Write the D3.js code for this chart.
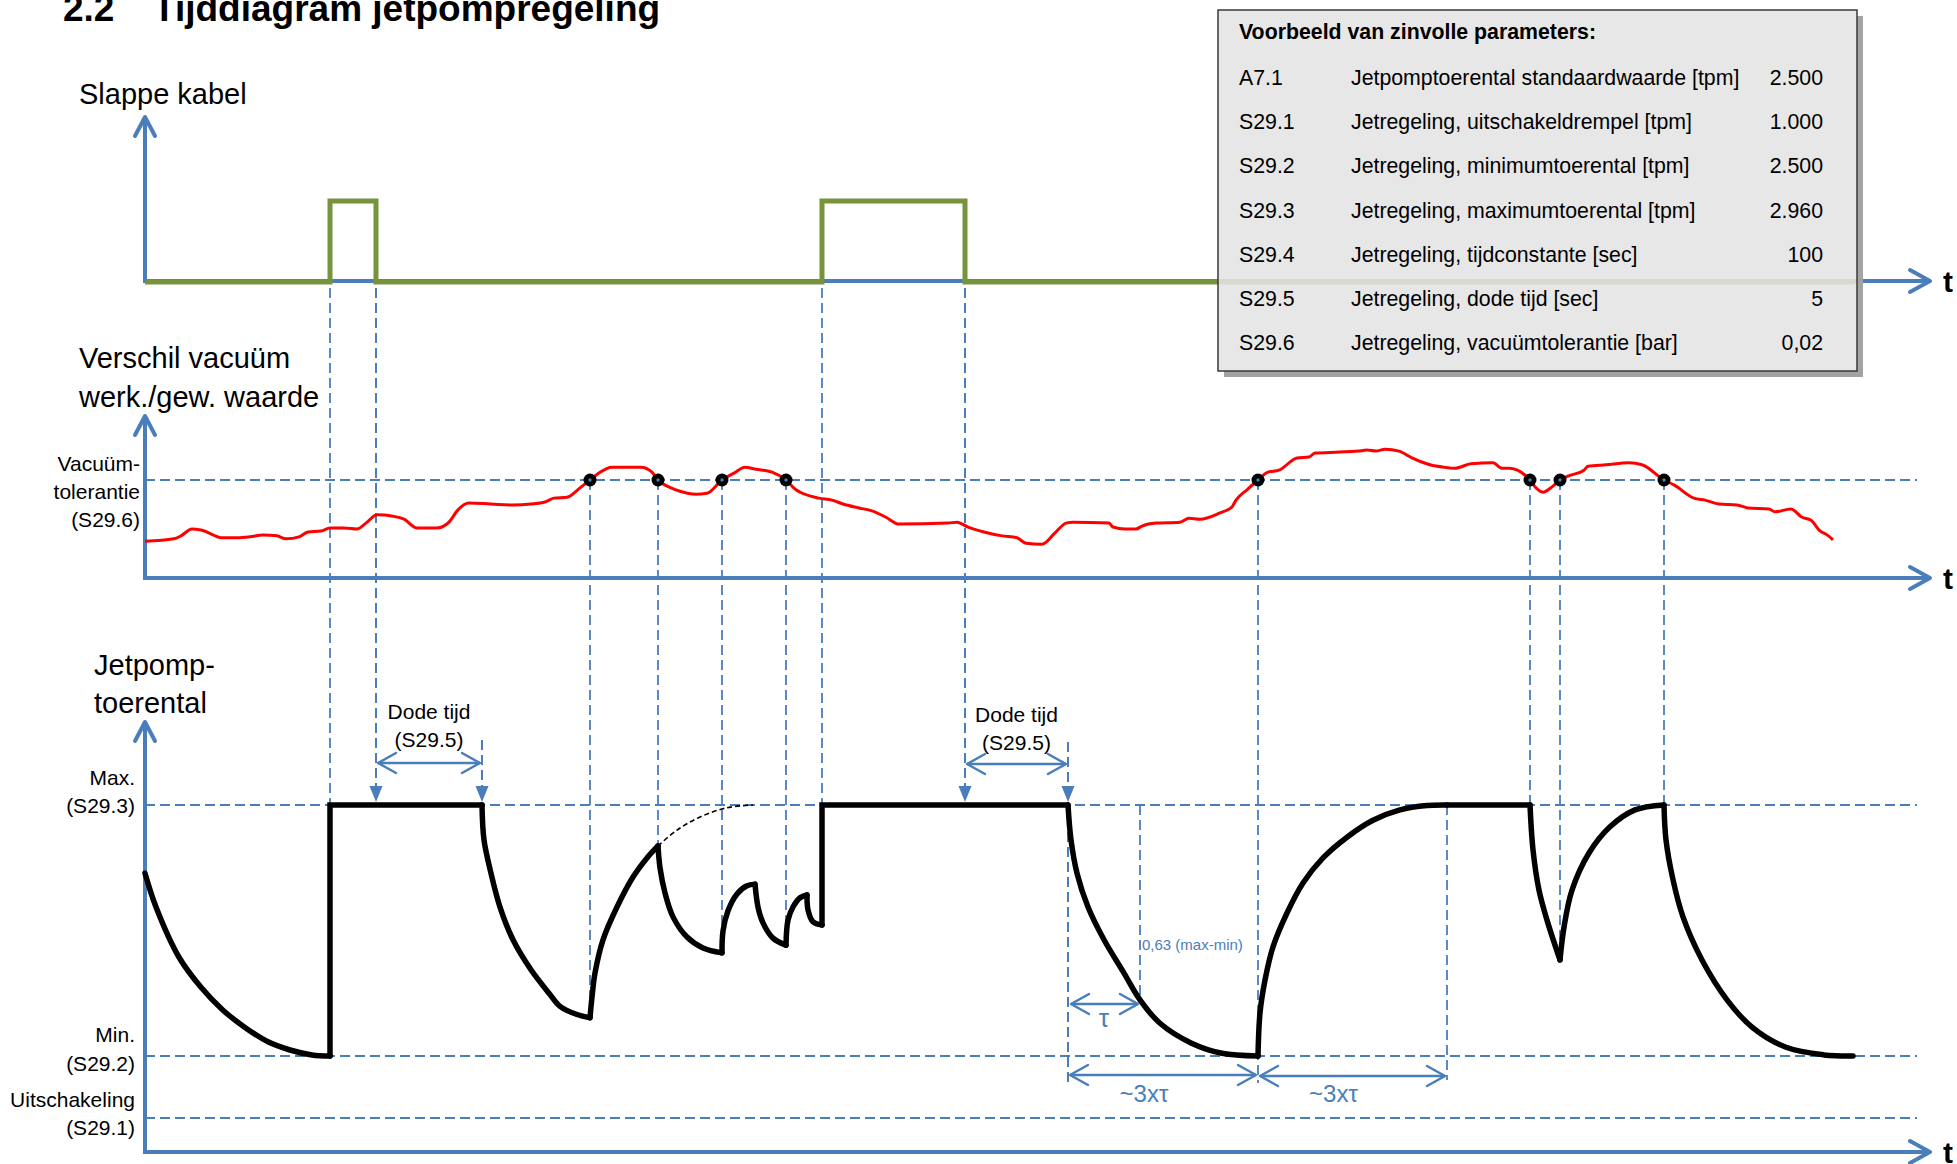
<!DOCTYPE html>
<html><head><meta charset="utf-8">
<script src="https://cdn.jsdelivr.net/npm/d3@7"></script>
<style>html,body{margin:0;padding:0;background:#fff;overflow:hidden}</style>
</head><body>
<svg id="c" width="1957" height="1164"></svg>
<script>
// ---------------- DATA ----------------
// time in arbitrary schematic units
const slackCableSteps = [[0,0],[18.5,1],[23.1,0],[67.7,1],[82.0,0],[171.0,0]];

// vacuum difference (working vs. desired), mbar; tolerance = 20 mbar (0,02 bar)
const vacuumDiff = [[0.0,7.5],[2.9,8.0],[3.6,8.6],[4.7,10.0],[5.6,9.8],[7.8,8.2],[9.2,8.2],[10.5,8.4],[11.8,8.8],[13.2,8.6],[14.1,8.0],[15.4,8.4],[16.3,9.4],[17.6,9.6],[18.5,10.2],[19.9,10.2],[21.2,10.0],[22.1,11.2],[23.2,12.9],[24.8,12.6],[25.9,12.0],[27.2,10.2],[29.2,10.2],[30.4,11.4],[31.3,13.9],[32.4,15.3],[34.6,15.1],[36.8,14.9],[38.6,15.1],[40.0,15.5],[40.9,16.3],[42.2,16.5],[43.5,18.4],[44.5,20.0],[45.5,21.6],[46.7,22.6],[49.6,22.6],[50.7,21.6],[51.3,20.0],[52.6,18.4],[53.5,17.7],[55.1,17.1],[56.2,17.3],[57.7,20.0],[58.9,21.4],[60.0,22.6],[61.1,22.2],[62.7,21.6],[64.1,20.0],[65.1,18.0],[67.4,16.3],[68.7,15.9],[69.8,15.1],[71.4,14.3],[72.7,13.7],[74.1,12.4],[75.4,11.0],[80.3,11.2],[81.2,11.4],[82.3,10.4],[83.9,9.4],[85.7,8.6],[87.2,8.2],[88.1,7.1],[89.7,6.9],[91.0,9.2],[92.1,11.2],[92.8,11.4],[96.4,11.2],[96.8,10.4],[98.0,10.0],[99.1,10.0],[99.7,10.6],[101.1,11.2],[103.5,11.4],[104.4,12.2],[105.5,12.0],[107.5,13.3],[108.7,14.5],[109.1,15.9],[110.2,18.0],[111.3,20.0],[112.3,21.6],[113.4,22.0],[115.2,24.5],[116.4,24.7],[117.0,25.5],[119.5,25.7],[121.3,25.9],[122.2,26.1],[123.1,25.9],[124.0,26.3],[125.4,25.9],[126.7,24.5],[128.5,23.1],[129.9,22.6],[131.0,22.4],[132.6,23.3],[134.8,23.5],[135.7,22.4],[136.4,22.4],[138.5,20.0],[139.0,18.6],[139.8,17.5],[140.7,18.6],[141.5,20.0],[142.3,20.8],[143.9,22.0],[144.3,22.8],[146.1,23.1],[148.4,23.5],[149.7,23.1],[151.9,20.0],[152.9,19.0],[154.9,16.3],[156.0,15.9],[157.4,15.1],[159.2,14.9],[160.3,14.3],[162.4,14.1],[163.0,13.5],[164.6,14.1],[165.7,12.4],[166.6,11.8],[167.5,9.6],[168.2,8.8],[168.8,7.8]];
const toleranceMbar = 20;
const crossingTimes  = [44.5, 51.3, 57.7, 64.1, 111.3, 138.5, 141.5, 151.9];
const crossingSpeeds = [2570, 2885, 2689, 2703, 2500, 2960, 2676, 2960];

// jet pump speed, tpm; pieces: smooth curves or straight steps
const speedPieces = [
  {smooth:true,  pts:[[0,2835],[1.1,2773],[3.4,2681],[5.6,2626],[7.8,2584],[10.1,2551],[12.3,2526],[14.5,2511],[16.7,2502],[18.5,2500]]},
  {smooth:false, pts:[[18.5,2500],[18.5,2960],[33.7,2960]]},
  {smooth:true,  pts:[[33.7,2960],[33.9,2896],[34.6,2835],[35.5,2773],[36.8,2713],[38.6,2658],[40.4,2615],[41.5,2591],[43.2,2576],[44.5,2570]]},
  {smooth:true,  pts:[[44.5,2570],[44.7,2608],[45.0,2652],[45.8,2713],[47.2,2773],[48.8,2828],[50.2,2863],[51.3,2885]]},
  {smooth:true,  pts:[[51.3,2885],[51.5,2845],[52.0,2799],[52.8,2755],[54.2,2718],[55.8,2698],[57.7,2689]]},
  {smooth:true,  pts:[[57.7,2689],[57.8,2729],[58.3,2766],[59.2,2797],[60.2,2812],[61.0,2815]]},
  {smooth:true,  pts:[[61.0,2815],[61.3,2773],[61.8,2744],[62.8,2716],[64.1,2703]]},
  {smooth:true,  pts:[[64.1,2703],[64.3,2749],[64.8,2773],[65.5,2790],[66.2,2795]]},
  {smooth:true,  pts:[[66.2,2795],[66.3,2768],[66.8,2746],[67.7,2740]]},
  {smooth:false, pts:[[67.7,2740],[67.7,2960],[92.3,2960]]},
  {smooth:true,  pts:[[92.3,2960],[92.6,2896],[93.2,2835],[94.3,2773],[95.9,2713],[97.9,2652],[99.5,2603],[101.5,2560],[104.6,2524],[107.7,2505],[111.3,2500]]},
  {smooth:true,  pts:[[111.3,2500],[111.5,2579],[112.0,2639],[112.8,2700],[114.2,2762],[115.8,2817],[117.8,2863],[120.2,2901],[122.8,2932],[125.5,2951],[128.2,2959],[130.2,2960]]},
  {smooth:false, pts:[[130.2,2960],[138.5,2960]]},
  {smooth:true,  pts:[[138.5,2960],[138.8,2878],[139.4,2804],[140.2,2749],[141.5,2676]]},
  {smooth:true,  pts:[[141.5,2676],[141.9,2736],[142.7,2804],[144.4,2872],[146.5,2920],[149.0,2951],[151.9,2960]]},
  {smooth:true,  pts:[[151.9,2960],[152.1,2896],[152.8,2823],[153.8,2755],[155.7,2676],[158.2,2603],[160.7,2553],[164.1,2516],[167.9,2502],[170.8,2500]]}
];
const deadTimeExtrapolation = [[51.3,2885],[53.2,2914],[55.5,2938],[58.2,2955],[60.8,2960]];
const deadTimeEnds = [33.7, 92.3];
const tauTime = 99.5;
const settleTimes = [92.3, 111.3, 130.2];
const speedLevels = [2960, 2500, 1000];
const speedLevelLabels = [["Max.","(S29.3)"],["Min.","(S29.2)"],["Uitschakeling","(S29.1)"]];

const paramCodes  = ["A7.1","S29.1","S29.2","S29.3","S29.4","S29.5","S29.6"];
const paramNames  = ["Jetpomptoerental standaardwaarde [tpm]","Jetregeling, uitschakeldrempel [tpm]","Jetregeling, minimumtoerental [tpm]","Jetregeling, maximumtoerental [tpm]","Jetregeling, tijdconstante [sec]","Jetregeling, dode tijd [sec]","Jetregeling, vacuümtolerantie [bar]"];
const paramValues = ["2.500","1.000","2.500","2.960","100","5","0,02"];

// ---------------- DRAWING ----------------
const svg = d3.select('#c');
const FONT = '"Liberation Sans", Arial, Helvetica, sans-serif';
const BLUE = '#4a7ebb';

const x = d3.scaleLinear().domain([0,178.5]).range([145,1930]);
const yCable = d3.scaleLinear().domain([0,1]).range([282,201]);
const yVac = d3.scaleLinear().domain([0,20]).range([578,480]);
const ySpeed = d3.scaleLinear().domain([0,1000,2500,2960]).range([1152,1118,1056,805]);

const X0 = x(0), XEND = x(178.5), XDASH = x(177.2);

function poly(g, pts, color, w){
  return g.append('path').attr('d', d3.line()(pts)).attr('fill','none')
    .attr('stroke',color).attr('stroke-width',w).attr('stroke-linejoin','round').attr('stroke-linecap','round');
}
function text(g, s, tx, ty, size, opts={}){
  const t = g.append('text').attr('x',tx).attr('y',ty).text(s)
    .attr('font-family',FONT).attr('font-size',size).attr('fill',opts.fill||'#000');
  if(opts.bold) t.attr('font-weight','bold');
  if(opts.anchor) t.attr('text-anchor',opts.anchor);
  return t;
}
function dashV(g, t, y1, y2, w){
  g.append('line').attr('x1',x(t)).attr('x2',x(t)).attr('y1',y1).attr('y2',y2)
   .attr('stroke',BLUE).attr('stroke-width',w||1.8).attr('stroke-dasharray','10,5');
}
function downArrow(g, t, tipY){
  const cx = x(t);
  g.append('path').attr('d',`M${cx-6.5},${tipY-16}L${cx+6.5},${tipY-16}L${cx},${tipY}Z`).attr('fill',BLUE);
}
function dblArrow(g, xa, xb, y){
  g.append('line').attr('x1',xa).attr('x2',xb).attr('y1',y).attr('y2',y).attr('stroke',BLUE).attr('stroke-width',2.5);
  poly(g, [[xa+18,y-10],[xa,y],[xa+18,y+10]], BLUE, 2.5);
  poly(g, [[xb-18,y-10],[xb,y],[xb-18,y+10]], BLUE, 2.5);
}

// title
text(svg,'2.2',63,21,37,{bold:true});
text(svg,'Tijddiagram jetpompregeling',153,21,37,{bold:true});

// ----- guides (dashed) -----
const gGuide = svg.append('g');
[yVac(toleranceMbar), ...speedLevels.map(v=>ySpeed(v))].forEach(yy=>{
  gGuide.append('line').attr('x1',X0).attr('x2',XDASH).attr('y1',yy).attr('y2',yy)
    .attr('stroke',BLUE).attr('stroke-width',1.8).attr('stroke-dasharray','10,5');
});
const cableEdges = slackCableSteps.slice(1,5).map(d=>d[0]);
const yMax = ySpeed(2960);
const yBracket = 1083;
dashV(gGuide, cableEdges[0], 288, yMax);
dashV(gGuide, cableEdges[1], 288, yMax-14, 2);
dashV(gGuide, cableEdges[2], 288, yMax);
dashV(gGuide, cableEdges[3], 288, yMax-14, 2);
dashV(gGuide, deadTimeEnds[0], 740, yMax-14, 2);
dashV(gGuide, deadTimeEnds[1], 742, yBracket, 2);
crossingTimes.forEach((t,i)=>{
  const end = (t===settleTimes[1]) ? yBracket : ySpeed(crossingSpeeds[i]);
  dashV(gGuide, t, yVac(toleranceMbar), end);
});
dashV(gGuide, tauTime, yMax, ySpeed(2603));
dashV(gGuide, settleTimes[2], yMax, 1080);

// ----- axes -----
const gAxes = svg.append('g');
const panels = [
  {base: yCable(0)-1, top: 117},
  {base: yVac(0), top: 416},
  {base: ySpeed(0), top: 722}
];
panels.forEach(p=>{
  gAxes.append('line').attr('x1',X0).attr('x2',X0).attr('y1',p.base+2).attr('y2',p.top+1).attr('stroke',BLUE).attr('stroke-width',4);
  gAxes.append('line').attr('x1',X0-2).attr('x2',XEND-1).attr('y1',p.base).attr('y2',p.base).attr('stroke',BLUE).attr('stroke-width',4);
  poly(gAxes, [[X0-10,p.top+19],[X0,p.top],[X0+10,p.top+19]], BLUE, 4);
  poly(gAxes, [[XEND-20,p.base-11],[XEND,p.base],[XEND-20,p.base+11]], BLUE, 4);
  text(gAxes,'t',1943,p.base+11,30,{bold:true});
});

// ----- panel titles & level labels -----
text(svg,'Slappe kabel',79,104,29);
text(svg,'Verschil vacuüm',79,368,29);
text(svg,'werk./gew. waarde',79,407,29);
text(svg,'Jetpomp-',94,675,29);
text(svg,'toerental',94,713,29);
['Vacuüm-','tolerantie','(S29.6)'].forEach((s,i)=>text(svg,s,140,471+28*i,21,{anchor:'end'}));
const levelDy = [[-20,8],[-14,15],[-11,17]];
speedLevels.forEach((v,i)=>{
  speedLevelLabels[i].forEach((s,j)=>text(svg,s,135,ySpeed(v)+levelDy[i][j],21,{anchor:'end'}));
});

// ----- slack cable signal -----
svg.append('path').datum(slackCableSteps)
  .attr('d', d3.line().x(d=>x(d[0])).y(d=>yCable(d[1])).curve(d3.curveStepAfter))
  .attr('fill','none').attr('stroke','#77933c').attr('stroke-width',5).attr('stroke-linejoin','miter');

// ----- vacuum difference -----
svg.append('path').datum(vacuumDiff)
  .attr('d', d3.line().x(d=>x(d[0])).y(d=>yVac(d[1])).curve(d3.curveMonotoneX))
  .attr('fill','none').attr('stroke','#ff0000').attr('stroke-width',3);

// ----- jet pump speed -----
const gSpeed = svg.append('g');
speedPieces.forEach(p=>{
  gSpeed.append('path').datum(p.pts)
    .attr('d', d3.line().x(d=>x(d[0])).y(d=>ySpeed(d[1])).curve(p.smooth?d3.curveCatmullRom.alpha(0.5):d3.curveLinear))
    .attr('fill','none').attr('stroke','#000').attr('stroke-width',5.5)
    .attr('stroke-linejoin','miter').attr('stroke-linecap','round');
});
gSpeed.append('path').datum(deadTimeExtrapolation)
  .attr('d', d3.line().x(d=>x(d[0])).y(d=>ySpeed(d[1])).curve(d3.curveCatmullRom.alpha(0.5)))
  .attr('fill','none').attr('stroke','#000').attr('stroke-width',1.6).attr('stroke-dasharray','5,3');

// crossing dots
crossingTimes.forEach(t=>{
  svg.append('circle').attr('cx',x(t)).attr('cy',yVac(toleranceMbar)).attr('r',6.5).attr('fill','#000');
  svg.append('circle').attr('cx',x(t)).attr('cy',yVac(toleranceMbar)).attr('r',1.7).attr('fill',BLUE);
});

// ----- annotations -----
const gAnn = svg.append('g');
[cableEdges[1], cableEdges[3], deadTimeEnds[0], deadTimeEnds[1]].forEach(t=>downArrow(gAnn,t,yMax-3));
dblArrow(gAnn, x(cableEdges[1])+2, x(deadTimeEnds[0])-2, 763);
dblArrow(gAnn, x(cableEdges[3])+2, x(deadTimeEnds[1])-2, 764);
text(gAnn,'Dode tijd',(x(cableEdges[1])+x(deadTimeEnds[0]))/2,719,21,{anchor:'middle'});
text(gAnn,'(S29.5)',(x(cableEdges[1])+x(deadTimeEnds[0]))/2,747,21,{anchor:'middle'});
text(gAnn,'Dode tijd',(x(cableEdges[3])+x(deadTimeEnds[1]))/2,722,21,{anchor:'middle'});
text(gAnn,'(S29.5)',(x(cableEdges[3])+x(deadTimeEnds[1]))/2,750,21,{anchor:'middle'});

dblArrow(gAnn, x(deadTimeEnds[1])+3, x(tauTime)-2, 1004);
text(gAnn,'τ',(x(deadTimeEnds[1])+x(tauTime))/2,1027,26,{anchor:'middle',fill:BLUE});
text(gAnn,'0,63 (max-min)',x(tauTime)+2,950,15,{fill:BLUE});
dblArrow(gAnn, x(settleTimes[0])+2, x(settleTimes[1])-2, 1075);
dblArrow(gAnn, x(settleTimes[1])+2, x(settleTimes[2])-2, 1076);
text(gAnn,'~3xτ',(x(settleTimes[0])+x(settleTimes[1]))/2-19,1102,24,{anchor:'middle',fill:BLUE});
text(gAnn,'~3xτ',(x(settleTimes[1])+x(settleTimes[2]))/2-19,1102,24,{anchor:'middle',fill:BLUE});

// ----- parameter table -----
const gT = svg.append('g');
const bx=1218, by=10, bw=639, bh=361;
gT.append('rect').attr('x',bx+bw).attr('y',by+6).attr('width',6).attr('height',bh).attr('fill','#a3a3a3');
gT.append('rect').attr('x',bx+6).attr('y',by+bh).attr('width',bw).attr('height',6).attr('fill','#a3a3a3');
gT.append('rect').attr('x',bx).attr('y',by).attr('width',bw).attr('height',bh)
  .attr('fill','#e4e4e4').attr('fill-opacity',0.88).attr('stroke','#3a3a3a').attr('stroke-width',1.5);
text(gT,'Voorbeeld van zinvolle parameters:',1239,39,21.3,{bold:true});
paramCodes.forEach((c,i)=>{
  const yy = 85 + i*44.2;
  text(gT,c,1239,yy,21.3);
  text(gT,paramNames[i],1351,yy,21.3);
  text(gT,paramValues[i],1823,yy,21.3,{anchor:'end'});
});
</script>
</body></html>
